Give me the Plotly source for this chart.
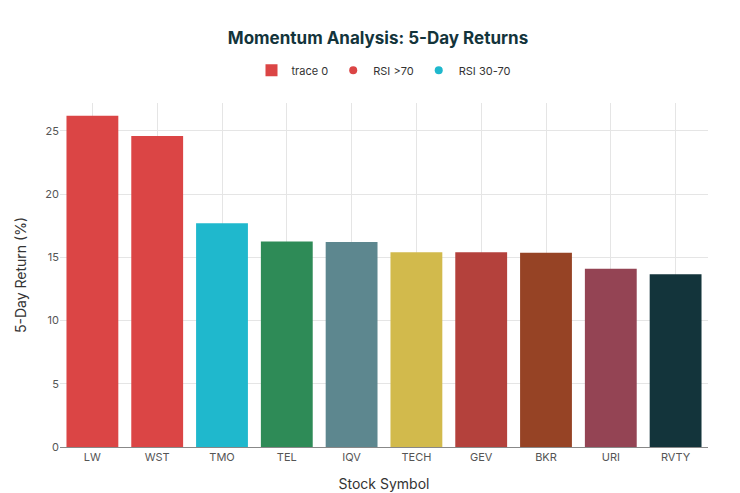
import plotly.graph_objects as go

symbols = ["LW", "WST", "TMO", "TEL", "IQV", "TECH", "GEV", "BKR", "URI", "RVTY"]
returns = [26.2, 24.6, 17.7, 16.25, 16.2, 15.4, 15.4, 15.35, 14.1, 13.65]
colors = ["#DB4545", "#DB4545", "#1FB8CD", "#2E8B57", "#5D878F", "#D2BA4C",
          "#B4413C", "#964325", "#944454", "#13343B"]
legend_names = ["RSI >70", "RSI 30-70"]
legend_colors = ["#DB4545", "#1FB8CD"]

fig = go.Figure()
fig.add_trace(go.Bar(x=symbols, y=returns, marker_color=colors, name="trace 0",
                     marker_line_width=0))
for n, c in zip(legend_names, legend_colors):
    fig.add_trace(go.Scatter(x=[None], y=[None], mode="markers", name=n,
                             marker=dict(color=c, size=8, symbol="circle")))

fig.update_layout(
    width=740, height=493,
    font=dict(family="Inter", color="#333333", size=12),
    title=dict(text="<b>Momentum Analysis: 5-Day Returns</b>", x=0.5, y=0.94, xanchor="center",
               yanchor="middle", font=dict(size=17, color="#13343B")),
    legend=dict(orientation="h", x=0.5, xanchor="center", y=1.095, yanchor="middle",
                font=dict(size=11)),
    plot_bgcolor="white", paper_bgcolor="white",
    margin=dict(l=52, r=40, t=95, b=50),
    bargap=0.2,
    xaxis=dict(title=dict(text="Stock Symbol"), showgrid=True, gridcolor="#E5E5E5",
               showline=True, linecolor="#888888", tickfont=dict(size=11, color="#555")),
    yaxis=dict(title=dict(text="5-Day Return (%)"), showgrid=True, gridcolor="#E5E5E5",
               zeroline=False, dtick=5, range=[0, 27.2], tickfont=dict(size=11, color="#555")),
)
fig.write_html("out.html")
